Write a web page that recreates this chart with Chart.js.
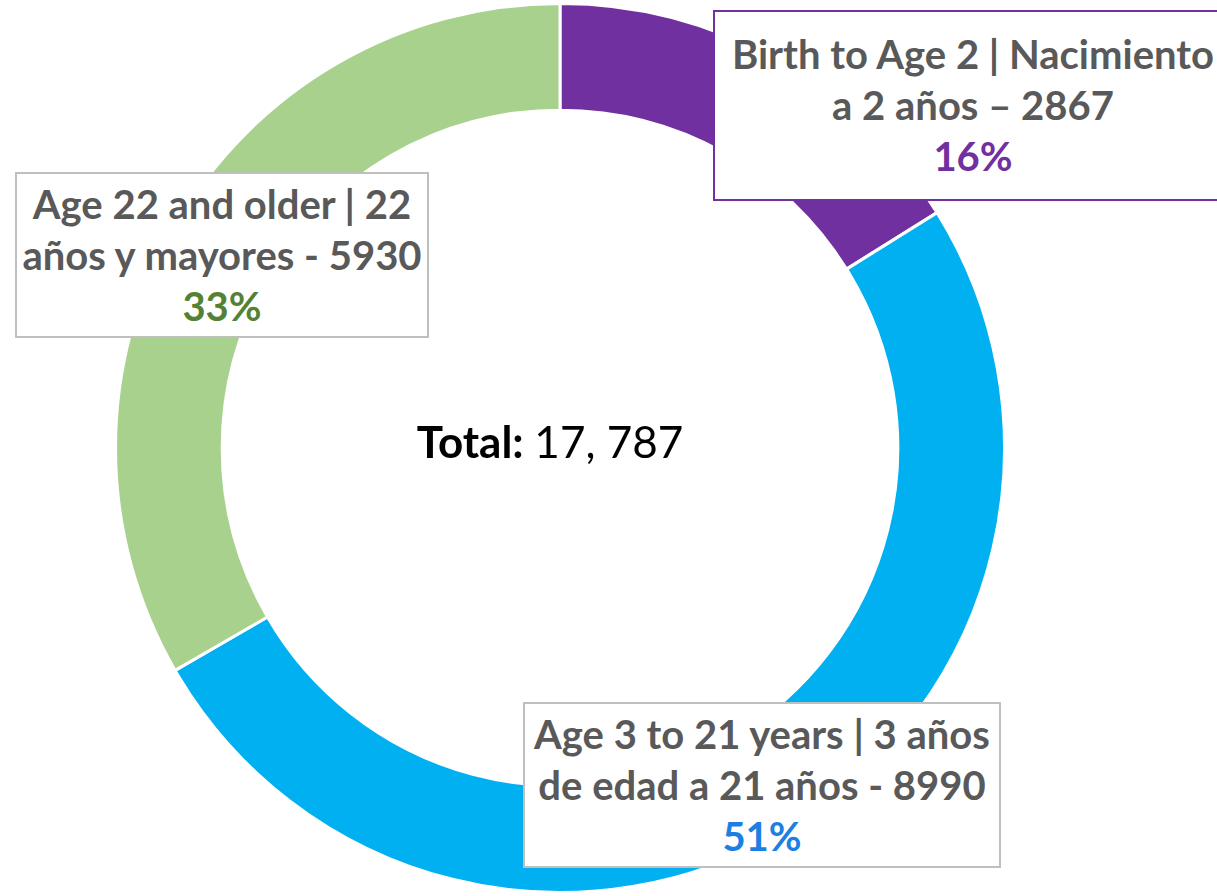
<!DOCTYPE html>
<html>
<head>
<meta charset="utf-8">
<script src="https://cdn.jsdelivr.net/npm/chart.js@4/dist/chart.umd.min.js"></script>
<style>
  html, body { margin: 0; padding: 0; background: #fff; }
  #wrap { position: relative; width: 1217px; height: 896px; overflow: hidden; }
  .box {
    position: absolute; background: #fff; box-sizing: border-box;
    border: 2px solid #bfbfbf; text-align: center;
    font-family: Lato, "Open Sans", sans-serif; font-weight: bold;
    font-size: 40px; line-height: 51px; color: #595959;
    display: flex; flex-direction: column; justify-content: center;
    white-space: nowrap;
  }
</style>
</head>
<body>
<div id="wrap">
  <canvas id="ageChart" width="1217" height="896"></canvas>
</div>
<script>
//chart data
const categories = ['Birth to Age 2', 'Age 3 to 21 years', 'Age 22 and older'];
const values = [2867, 8990, 5930];
const colors = ['#7030a0', '#00b0f0', '#a9d18e'];
const pctColors = ['#7030a0', '#1b7fe3', '#548235'];
//label text as it is broken in the boxes
const labelLines = [
    ['Birth to Age 2 | Nacimiento', 'a 2 años – 2867'],
    ['Age 3 to 21 years | 3 años', 'de edad a 21 años - 8990'],
    ['Age 22 and older | 22', 'años y mayores - 5930']
];
//box positions (left, top, width, height, border colour)
const boxes = [
    [713, 10, 520, 191, '#7030a0'],
    [523, 702, 478, 166, '#bfbfbf'],
    [15, 172, 414, 166, '#bfbfbf']
];

const total = values.reduce((a, b) => a + b, 0);

//text in the middle of the ring
const centerText = {
    id: 'centerText',
    afterDraw(chart) {
        const ctx = chart.ctx;
        const meta = chart.getDatasetMeta(0).data[0];
        const x = meta.x - 10, y = meta.y - 4;
        const bold = 'Total: ';
        const rest = total.toLocaleString('en-US').replace(',', ', ');
        ctx.save();
        ctx.textBaseline = 'middle';
        ctx.fillStyle = '#000';
        ctx.font = 'bold 44px Lato, sans-serif';
        const w1 = ctx.measureText(bold).width;
        ctx.font = '44px Lato, sans-serif';
        const w2 = ctx.measureText(rest).width;
        const start = x - (w1 + w2) / 2;
        ctx.textAlign = 'left';
        ctx.font = 'bold 44px Lato, sans-serif';
        ctx.fillText(bold, start, y);
        ctx.font = '44px Lato, sans-serif';
        ctx.fillText(rest, start + w1, y);
        ctx.restore();
    }
};

const ctx = document.getElementById('ageChart').getContext('2d');
new Chart(ctx, {
    type: 'doughnut',
    data: {
        labels: categories,
        datasets: [{
            data: values,
            backgroundColor: colors,
            borderColor: '#ffffff',
            borderWidth: 3
        }]
    },
    options: {
        responsive: false,
        animation: false,
        cutout: '76%',
        layout: { padding: { left: 114, right: 211, top: 2, bottom: 2 } },
        plugins: {
            legend: { display: false },
            tooltip: { enabled: false }
        }
    },
    plugins: [centerText]
});

//label boxes
const wrap = document.getElementById('wrap');
categories.forEach((c, i) => {
    const b = boxes[i];
    const div = document.createElement('div');
    div.className = 'box';
    div.style.left = b[0] + 'px';
    div.style.top = b[1] + 'px';
    div.style.width = b[2] + 'px';
    div.style.height = b[3] + 'px';
    div.style.borderColor = b[4];
    labelLines[i].forEach(t => {
        const d = document.createElement('div');
        d.textContent = t;
        div.appendChild(d);
    });
    const p = document.createElement('div');
    p.style.color = pctColors[i];
    p.textContent = Math.round(values[i] / total * 100) + '%';
    div.appendChild(p);
    wrap.appendChild(div);
});
</script>
</body>
</html>
